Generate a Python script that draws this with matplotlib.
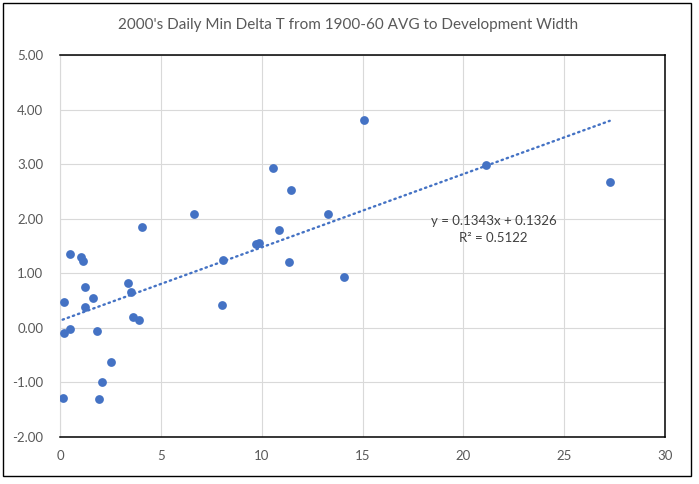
import numpy as np
import matplotlib
matplotlib.use('Agg')
import matplotlib.pyplot as plt
from matplotlib.patches import Rectangle

# development width vs delta T
width = [0.18, 0.18, 0.13, 0.48, 0.50, 1.02, 1.12, 1.22, 1.22, 1.62, 1.83,
         1.91, 2.06, 2.51, 3.37, 3.51, 3.60, 3.91, 4.09, 6.63, 8.10, 8.05,
         9.74, 9.87, 10.58, 10.87, 11.47, 11.37, 13.30, 14.09, 15.08, 21.12, 27.26]
delta_t = [0.48, -0.10, -1.28, 1.36, -0.03, 1.29, 1.23, 0.74, 0.38, 0.54, -0.05,
           -1.31, -1.00, -0.62, 0.83, 0.66, 0.19, 0.15, 1.84, 2.09, 1.25, 0.41,
           1.54, 1.56, 2.93, 1.80, 2.53, 1.21, 2.09, 0.93, 3.81, 2.99, 2.67]
slope = 0.1343
intercept = 0.1326
r2 = 0.5122

title = "2000's Daily Min Delta T from 1900-60 AVG to Development Width"
xticks = [0, 5, 10, 15, 20, 25, 30]
yticks = [-2, -1, 0, 1, 2, 3, 4, 5]

blue = '#4472C4'
grey_txt = '#595959'
grid_c = '#d9d9d9'

plt.rcParams['font.family'] = ['Lato', 'DejaVu Sans']

fig = plt.figure(figsize=(6.99, 4.84), dpi=100)
W, H = 699, 484
ax = fig.add_axes([60/W, 1-437/H, (665-60)/W, (437-55)/H])

ax.scatter(width, delta_t, s=40, color=blue, zorder=3, linewidths=0)

xs = np.array([min(width), max(width)])
ax.plot(xs, slope*xs + intercept, color=blue, lw=1.7, ls=(0, (0.6, 1.7)),
        dash_capstyle='round', zorder=2)

ax.text(21.5, 1.80, 'y = %.4fx + %.4f\nR² = %.4f' % (slope, intercept, r2),
        ha='center', va='center', fontsize=9.5, color='#404040',
        linespacing=1.5)

ax.set_xlim(0, 30)
ax.set_ylim(-2, 5)
ax.set_xticks(xticks)
ax.set_yticks(yticks)
ax.set_yticklabels(['%.2f' % v for v in yticks])
ax.tick_params(length=0, labelsize=9.5, colors=grey_txt)
ax.tick_params(axis='y', pad=12)
ax.tick_params(axis='x', pad=9)
ax.grid(True, color=grid_c, lw=0.8)
ax.set_axisbelow(True)
for s in ['top', 'right', 'bottom']:
    ax.spines[s].set_color('black')
    ax.spines[s].set_linewidth(1.1)
ax.spines['left'].set_color(grid_c)
ax.spines['left'].set_linewidth(0.8)

fig.text(348/W, 1-25/H, title, ha='center', va='center', fontsize=11,
         color=grey_txt)

fig.patches.append(Rectangle((3/W, 1-476/H), (691-3)/W, (476-3)/H,
                             transform=fig.transFigure, fill=False,
                             edgecolor='black', lw=1.0))

fig.savefig('out.png', dpi=100)
